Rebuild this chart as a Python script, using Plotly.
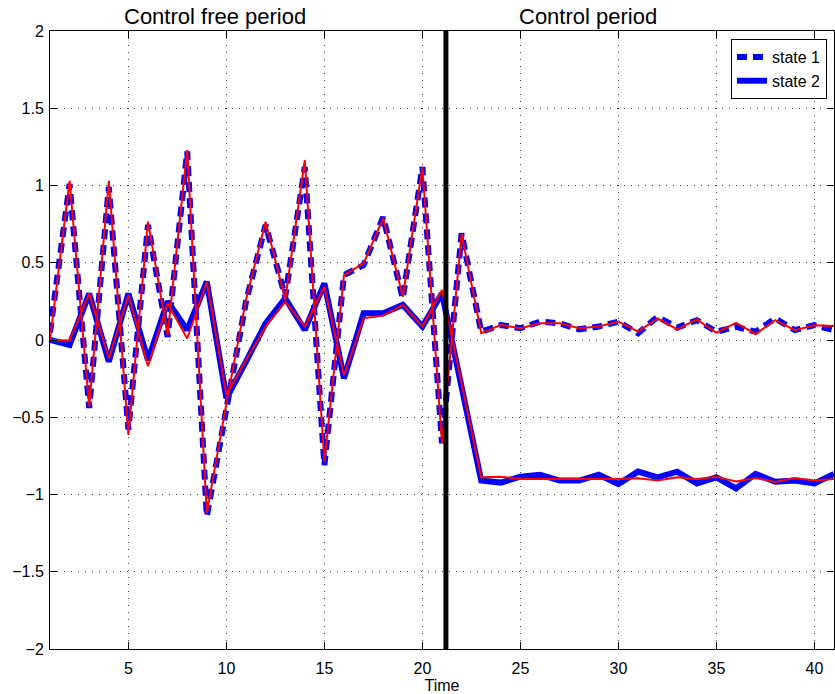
import plotly.graph_objects as go

time = list(range(1, 42))

state1 = [0.05, 1.01, -0.44, 0.99, -0.58, 0.745, 0.02, 1.22, -1.14, -0.42,
          0.25, 0.745, 0.28, 1.12, -0.81, 0.42, 0.485, 0.795, 0.27, 1.12,
          -0.668, 0.69, 0.054, 0.097, 0.076, 0.119, 0.108, 0.069, 0.087, 0.119,
          0.043, 0.15, 0.08, 0.128, 0.054, 0.085, 0.054, 0.139, 0.064, 0.096, 0.064]
state1_est = [0.0, 1.03, -0.43, 1.03, -0.615, 0.766, 0.032, 1.23, -1.12, -0.41,
              0.26, 0.766, 0.26, 1.165, -0.79, 0.42, 0.496, 0.788, 0.28, 1.12,
              -0.668, 0.686, 0.044, 0.097, 0.076, 0.108, 0.108, 0.076, 0.087, 0.119,
              0.054, 0.139, 0.068, 0.133, 0.047, 0.111, 0.039, 0.128, 0.064, 0.096, 0.09]
state2 = [0.0, -0.032, 0.30, -0.14, 0.30, -0.13, 0.25, 0.065, 0.377, -0.377,
          -0.14, 0.108, 0.27, 0.065, 0.367, -0.248, 0.173, 0.173, 0.227, 0.087,
          0.302, -0.30, -0.91, -0.923, -0.885, -0.872, -0.91, -0.91, -0.872, -0.932,
          -0.852, -0.889, -0.852, -0.928, -0.889, -0.96, -0.867, -0.917, -0.91, -0.928, -0.867]
state2_est = [0.0, -0.004, 0.30, -0.12, 0.29, -0.17, 0.237, 0.01, 0.377, -0.356,
              -0.13, 0.087, 0.248, 0.087, 0.345, -0.23, 0.14, 0.158, 0.227, 0.087,
              0.324, -0.29, -0.889, -0.885, -0.9, -0.9, -0.9, -0.9, -0.9, -0.9,
              -0.895, -0.91, -0.889, -0.9, -0.885, -0.915, -0.893, -0.919, -0.893, -0.91, -0.9]

control_start = 21.2
y_limits = [-2, 2]
x_limits = [1, 41]
x_ticks = [5, 10, 15, 20, 25, 30, 35, 40]
y_ticks = [-2, -1.5, -1, -0.5, 0, 0.5, 1, 1.5, 2]
y_tick_labels = ["\u22122", "\u22121.5", "\u22121", "\u22120.5", "0", "0.5", "1", "1.5", "2"]
period_labels = [("Control free period", 9.42), ("Control period", 28.45)]

FONT = "Liberation Sans, Arial, Helvetica, sans-serif"

fig = go.Figure()
fig.add_trace(go.Scatter(x=time, y=state1, mode="lines", name="state 1",
                         line=dict(color="#0000ff", width=6, dash="10px,6px")))
fig.add_trace(go.Scatter(x=time, y=state2, mode="lines", name="state 2",
                         line=dict(color="#0000ff", width=6)))
fig.add_trace(go.Scatter(x=time, y=state1_est, mode="lines", showlegend=False,
                         line=dict(color="#ff0000", width=2)))
fig.add_trace(go.Scatter(x=time, y=state2_est, mode="lines", showlegend=False,
                         line=dict(color="#ff0000", width=2)))
fig.add_trace(go.Scatter(x=[control_start, control_start], y=y_limits, mode="lines",
                         showlegend=False, line=dict(color="black", width=5)))

for text, xpos in period_labels:
    fig.add_annotation(x=xpos, y=1.0235, xref="x", yref="paper", yanchor="middle",
                       text=text, showarrow=False,
                       font=dict(family=FONT, size=22, color="black"))

axis_common = dict(showline=True, linecolor="black", linewidth=1, mirror="ticks",
                   ticks="inside", ticklen=7, tickcolor="black", showgrid=True,
                   gridcolor="#444", gridwidth=1, griddash="1px,6px", zeroline=False,
                   tickfont=dict(family=FONT, size=16, color="black"))

fig.update_xaxes(range=x_limits, tickvals=x_ticks, ticklabelstandoff=5,
                 title=dict(text="Time", font=dict(family=FONT, size=16, color="black"),
                            standoff=0),
                 **axis_common)
fig.update_yaxes(range=y_limits, tickvals=y_ticks, ticktext=y_tick_labels,
                 ticklabelstandoff=2, **axis_common)

fig.update_layout(
    width=835, height=694,
    margin=dict(l=50, r=1, t=31, b=45),
    plot_bgcolor="white", paper_bgcolor="white",
    font=dict(family=FONT, color="black"),
    legend=dict(x=0.991, y=0.987, xanchor="right", yanchor="top",
                bgcolor="white", bordercolor="black", borderwidth=1,
                font=dict(family=FONT, size=16, color="black"),
                tracegroupgap=0, itemwidth=30),
    showlegend=True,
)

# remove the default 8px page margin so the 835x694 figure fills the window exactly
fig.write_html("out.html", config={"displayModeBar": False},
               post_script="document.body.style.margin='0';")
